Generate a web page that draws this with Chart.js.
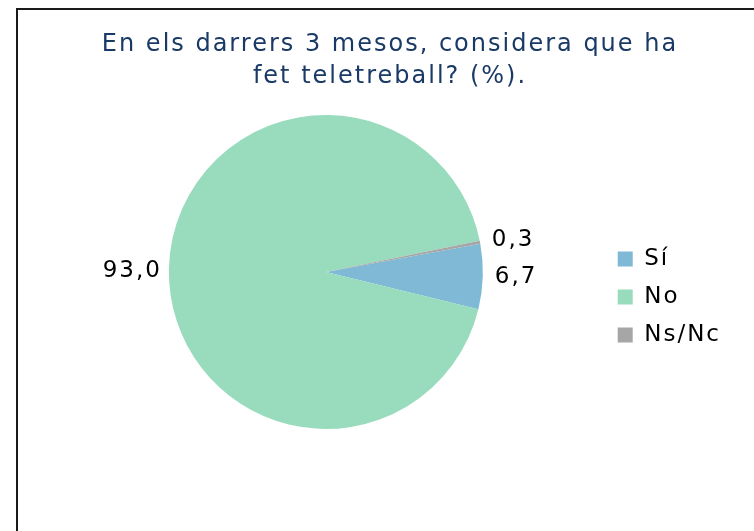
<!DOCTYPE html>
<html>
<head>
<meta charset="utf-8">
<script src="https://cdn.jsdelivr.net/npm/chart.js@4/dist/chart.umd.min.js"></script>
<style>
  html, body { margin: 0; padding: 0; background: #fff; }
  #wrap { position: relative; width: 754px; height: 531px; overflow: hidden; }
  #frame {
    position: absolute; left: 16px; top: 8px; width: 800px; height: 600px;
    border-left: 2px solid #1a1a1a; border-top: 2px solid #1a1a1a;
  }
  #chartTeletreball { position: absolute; left: 0; top: 0; }
</style>
</head>
<body>
<div id="wrap">
  <div id="frame"></div>
  <canvas id="chartTeletreball" width="754" height="531"></canvas>
</div>
<script>
const titleLines = ['En els darrers 3 mesos, considera que ha', 'fet teletreball? (%).'];
const categories = ['Sí', 'No', 'Ns/Nc'];
const percentages = [6.7, 93.0, 0.3];
const sliceColors = ['#80b9d5', '#99dcbd', '#a6a6a6'];

const fontFamily = "'DejaVu Sans', Verdana, sans-serif";
const spacing = 2; // the original font runs a little wider than DejaVu

// canvas state is reset on resize, so set the spacing again before measuring and drawing
const wideText = {
  id: 'wideText',
  beforeLayout(chart) {
    chart.ctx.letterSpacing = spacing + 'px';
  },
  beforeDraw(chart) {
    chart.ctx.letterSpacing = spacing + 'px';
  }
};

// value labels outside each slice, like "93,0"
const outsideLabels = {
  id: 'outsideLabels',
  afterDatasetsDraw(chart) {
    const ctx = chart.ctx;
    const meta = chart.getDatasetMeta(0);
    ctx.save();
    ctx.letterSpacing = spacing + 'px';
    ctx.font = '23px ' + fontFamily;
    ctx.fillStyle = '#000';
    ctx.textBaseline = 'middle';
    meta.data.forEach((arc, i) => {
      const p = arc.getProps(['x', 'y', 'startAngle', 'endAngle', 'outerRadius'], true);
      const mid = (p.startAngle + p.endAngle) / 2;
      const right = Math.cos(mid) >= 0;
      const r = p.outerRadius + (right ? 12 : 9);
      let x = p.x + Math.cos(mid) * r;
      let y = p.y + Math.sin(mid) * r;
      if (!right) {
        x += spacing;
        y += 2;
      }
      ctx.textAlign = right ? 'left' : 'right';
      ctx.fillText(percentages[i].toFixed(1).replace('.', ','), x, y);
    });
    ctx.restore();
  }
};

const ctxTeletreball = document.getElementById('chartTeletreball').getContext('2d');
const myChart = new Chart(ctxTeletreball, {
  type: 'pie',
  data: {
    labels: categories,
    datasets: [
      {
        data: percentages,
        backgroundColor: sliceColors,
        borderWidth: 0,
      },
    ],
  },
  plugins: [wideText, outsideLabels],
  options: {
    responsive: false,
    animation: false,
    rotation: 79.6,
    layout: {
      padding: { left: 49, right: 23, top: 0, bottom: 102 },
    },
    plugins: {
      tooltip: { enabled: false },
      title: {
        display: true,
        text: titleLines,
        color: '#1a3a66',
        font: { family: fontFamily, size: 24, weight: 'normal', lineHeight: '32px' },
        padding: { top: 29, bottom: 22 },
      },
      legend: {
        position: 'right',
        fullSize: false,
        title: {
          display: true,
          text: '',
          font: { size: 10, lineHeight: '50px' },
          padding: 0,
        },
        labels: {
          color: '#000',
          boxWidth: 15,
          boxHeight: 15,
          padding: 15,
          font: { family: fontFamily, size: 23 },
        },
      },
    },
  },
});
</script>
</body>
</html>
